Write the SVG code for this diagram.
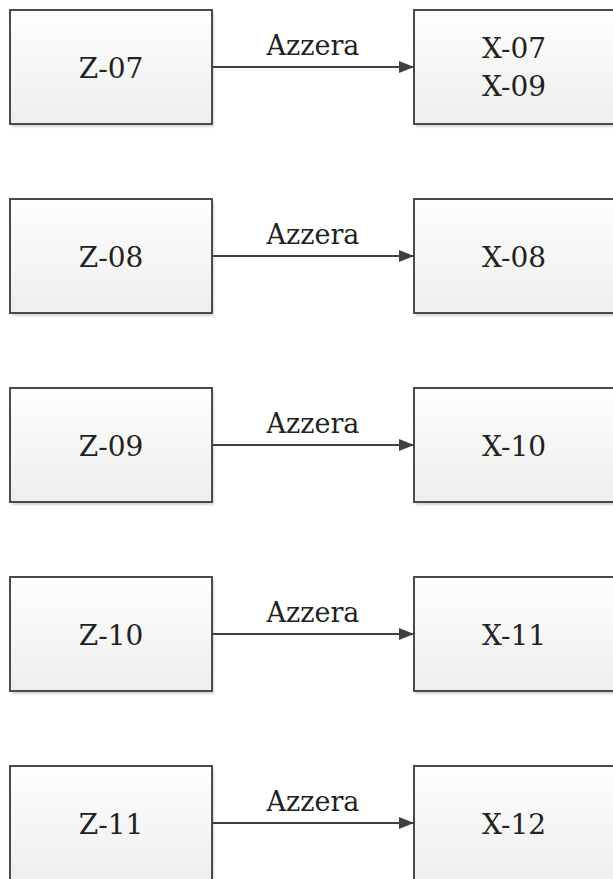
<svg xmlns="http://www.w3.org/2000/svg" width="613" height="879" viewBox="0 0 613 879">
<defs>
<linearGradient id="g" x1="0" y1="0" x2="0" y2="1">
<stop offset="0" stop-color="#fefefe"/>
<stop offset="1" stop-color="#eeeeee"/>
</linearGradient>
<filter id="sh" x="-10%" y="-10%" width="130%" height="130%">
<feGaussianBlur stdDeviation="1"/>
</filter>
<marker id="arr" markerWidth="15" markerHeight="12" refX="15" refY="6" orient="auto" markerUnits="userSpaceOnUse">
<path d="M0,0 L15,6 L0,12 Z" fill="#404040"/>
</marker>
</defs>
<style>
.shadow{fill:#d4d4d4;filter:url(#sh)}
.box{fill:url(#g);stroke:#4a4a4a;stroke-width:2}
.t{font-family:"DejaVu Serif",serif;font-size:28px;fill:#222222;text-anchor:middle}
.lbl{font-family:"DejaVu Serif",serif;font-size:27px;fill:#222222;text-anchor:middle}
.edge{stroke:#404040;stroke-width:2;fill:none;marker-end:url(#arr)}
</style>
<rect width="613" height="879" fill="#ffffff"/>

<g id="Z-07"><rect class="shadow" x="12" y="13" width="202" height="114"/><rect class="box" x="10" y="10" width="202" height="114"/><text class="t" x="111" y="78">Z-07</text></g>
<g id="X-07"><rect class="shadow" x="416" y="13" width="202" height="114"/><rect class="box" x="414" y="10" width="202" height="114"/><text class="t" x="514" y="58">X-07</text><text class="t" x="514" y="96">X-09</text></g>

<g id="Z-08"><rect class="shadow" x="12" y="202" width="202" height="114"/><rect class="box" x="10" y="199" width="202" height="114"/><text class="t" x="111" y="267">Z-08</text></g>
<g id="X-08"><rect class="shadow" x="416" y="202" width="202" height="114"/><rect class="box" x="414" y="199" width="202" height="114"/><text class="t" x="514" y="267">X-08</text></g>

<g id="Z-09"><rect class="shadow" x="12" y="391" width="202" height="114"/><rect class="box" x="10" y="388" width="202" height="114"/><text class="t" x="111" y="456">Z-09</text></g>
<g id="X-10"><rect class="shadow" x="416" y="391" width="202" height="114"/><rect class="box" x="414" y="388" width="202" height="114"/><text class="t" x="514" y="456">X-10</text></g>

<g id="Z-10"><rect class="shadow" x="12" y="580" width="202" height="114"/><rect class="box" x="10" y="577" width="202" height="114"/><text class="t" x="111" y="645">Z-10</text></g>
<g id="X-11"><rect class="shadow" x="416" y="580" width="202" height="114"/><rect class="box" x="414" y="577" width="202" height="114"/><text class="t" x="514" y="645">X-11</text></g>

<g id="Z-11"><rect class="shadow" x="12" y="769" width="202" height="114"/><rect class="box" x="10" y="766" width="202" height="114"/><text class="t" x="111" y="834">Z-11</text></g>
<g id="X-12"><rect class="shadow" x="416" y="769" width="202" height="114"/><rect class="box" x="414" y="766" width="202" height="114"/><text class="t" x="514" y="834">X-12</text></g>

<g id="connectors">
<line class="edge" x1="212" y1="67" x2="414" y2="67"/>
<text class="lbl" x="313" y="55">Azzera</text>
<line class="edge" x1="212" y1="256" x2="414" y2="256"/>
<text class="lbl" x="313" y="244">Azzera</text>
<line class="edge" x1="212" y1="445" x2="414" y2="445"/>
<text class="lbl" x="313" y="433">Azzera</text>
<line class="edge" x1="212" y1="634" x2="414" y2="634"/>
<text class="lbl" x="313" y="622">Azzera</text>
<line class="edge" x1="212" y1="823" x2="414" y2="823"/>
<text class="lbl" x="313" y="811">Azzera</text>
</g>
</svg>
